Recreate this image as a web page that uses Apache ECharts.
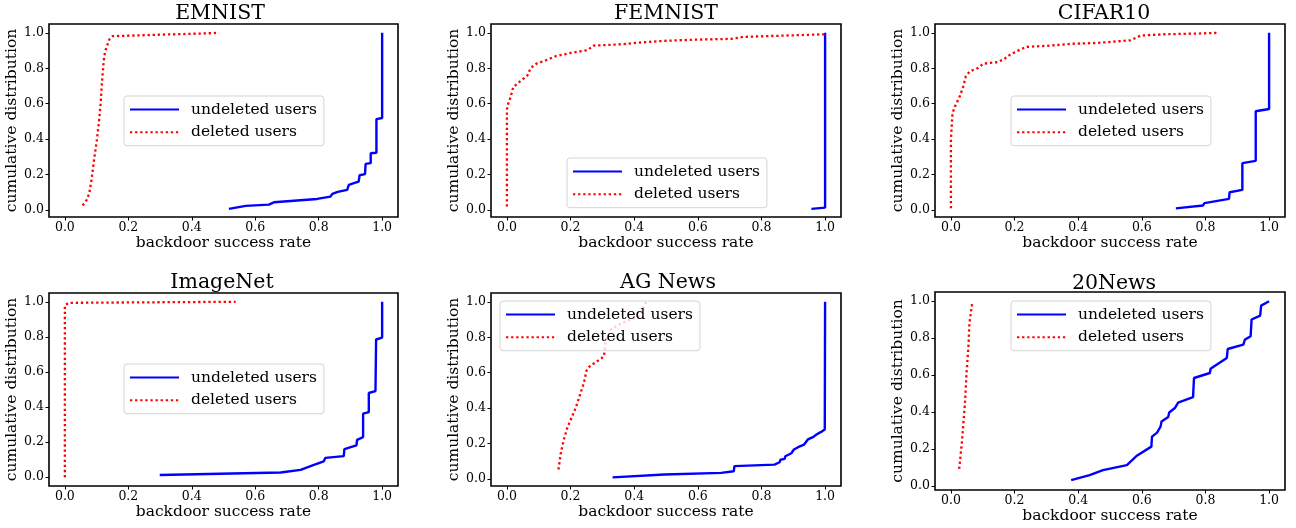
<!DOCTYPE html>
<html>
<head>
<meta charset="utf-8">
<script src="https://cdn.jsdelivr.net/npm/echarts@6/dist/echarts.min.js"></script>
<style>html,body{margin:0;padding:0;background:#fff}#c{width:1296px;height:528px}</style>
</head>
<body>
<div id="c"></div>
<script>
const titles = ['EMNIST', 'FEMNIST', 'CIFAR10', 'ImageNet', 'AG News', '20News'];
const seriesNames = ['undeleted users', 'deleted users'];
const xTicks = [0, 0.2, 0.4, 0.6, 0.8, 1.0];
const yTicks = [0, 0.2, 0.4, 0.6, 0.8, 1.0];
const xLabel = 'backdoor success rate';
const yLabel = 'cumulative distribution';

const undeletedEMNIST = [[0.517,0.006],[0.570,0.023],[0.643,0.030],[0.659,0.043],[0.795,0.062],[0.837,0.075],[0.843,0.091],[0.860,0.102],[0.890,0.113],[0.895,0.141],[0.911,0.151],[0.926,0.160],[0.929,0.196],[0.946,0.202],[0.948,0.260],[0.964,0.264],[0.964,0.320],[0.982,0.323],[0.982,0.513],[1.0,0.519],[1.0,1.0]];
const deletedEMNIST = [[0.056,0.025],[0.069,0.057],[0.077,0.094],[0.084,0.170],[0.092,0.283],[0.101,0.396],[0.108,0.509],[0.113,0.604],[0.116,0.698],[0.121,0.811],[0.124,0.868],[0.129,0.906],[0.140,0.962],[0.150,0.981],[0.218,0.985],[0.323,0.991],[0.428,0.996],[0.486,1.0]];

const undeletedFEMNIST = [[0.957,0.006],[1.0,0.013],[1.0,1.0]];
const deletedFEMNIST = [[0,0.019],[0,0.566],[0.003,0.594],[0.012,0.640],[0.020,0.694],[0.035,0.717],[0.051,0.740],[0.064,0.758],[0.075,0.802],[0.093,0.826],[0.122,0.845],[0.153,0.868],[0.201,0.887],[0.253,0.902],[0.272,0.928],[0.348,0.934],[0.432,0.947],[0.495,0.955],[0.600,0.962],[0.705,0.966],[0.742,0.977],[0.810,0.981],[0.915,0.987],[1.0,0.992]];

const undeletedCIFAR10 = [[0.707,0.009],[0.792,0.025],[0.797,0.038],[0.874,0.062],[0.876,0.100],[0.916,0.113],[0.916,0.264],[0.958,0.277],[0.958,0.557],[1.0,0.570],[1.0,1.0]];
const deletedCIFAR10 = [[0,0.009],[0,0.396],[0.005,0.547],[0.013,0.585],[0.028,0.642],[0.039,0.698],[0.047,0.755],[0.060,0.783],[0.086,0.802],[0.102,0.826],[0.144,0.834],[0.165,0.849],[0.186,0.877],[0.218,0.906],[0.239,0.921],[0.313,0.928],[0.376,0.938],[0.460,0.943],[0.565,0.958],[0.597,0.985],[0.671,0.992],[0.776,0.996],[0.839,1.0]];

const undeletedImageNet = [[0.299,0.013],[0.680,0.027],[0.743,0.042],[0.785,0.070],[0.816,0.091],[0.821,0.110],[0.879,0.120],[0.881,0.160],[0.919,0.181],[0.921,0.213],[0.940,0.229],[0.940,0.362],[0.958,0.371],[0.958,0.480],[0.979,0.491],[0.981,0.785],[1.0,0.796],[1.0,1.0]];
const deletedImageNet = [[0,0],[0,0.981],[0.013,0.994],[0.538,1.0]];

const undeletedAGNews = [[0.332,0.009],[0.495,0.025],[0.673,0.034],[0.713,0.043],[0.715,0.072],[0.841,0.081],[0.857,0.094],[0.860,0.108],[0.873,0.113],[0.875,0.128],[0.894,0.145],[0.902,0.166],[0.915,0.179],[0.934,0.194],[0.946,0.223],[0.962,0.236],[0.973,0.251],[0.986,0.264],[0.999,0.279],[1.0,1.0]];
const deletedAGNews = [[0.162,0.053],[0.169,0.142],[0.178,0.217],[0.190,0.290],[0.206,0.358],[0.216,0.400],[0.228,0.466],[0.242,0.542],[0.250,0.610],[0.262,0.640],[0.279,0.658],[0.305,0.692],[0.310,0.768],[0.326,0.843],[0.362,0.881],[0.415,0.919],[0.438,1.0]];

const undeleted20News = [[0.378,0.031],[0.436,0.058],[0.478,0.085],[0.553,0.112],[0.583,0.161],[0.630,0.212],[0.632,0.266],[0.648,0.288],[0.659,0.321],[0.662,0.348],[0.683,0.372],[0.686,0.397],[0.704,0.421],[0.714,0.451],[0.761,0.480],[0.764,0.584],[0.814,0.611],[0.816,0.634],[0.867,0.692],[0.870,0.741],[0.919,0.765],[0.924,0.792],[0.942,0.810],[0.945,0.901],[0.972,0.922],[0.975,0.976],[1.0,1.0]];
const deleted20News = [[0.026,0.091],[0.034,0.226],[0.039,0.335],[0.044,0.444],[0.049,0.607],[0.055,0.752],[0.058,0.879],[0.067,0.991]];

const undeletedAll = [undeletedEMNIST, undeletedFEMNIST, undeletedCIFAR10, undeletedImageNet, undeletedAGNews, undeleted20News];
const deletedAll = [deletedEMNIST, deletedFEMNIST, deletedCIFAR10, deletedImageNet, deletedAGNews, deleted20News];

// layout (pixels)
const grids = [
  {left: 49, top: 24, width: 349, height: 193},
  {left: 491, top: 24, width: 350, height: 193},
  {left: 935, top: 24, width: 350, height: 193},
  {left: 49, top: 293, width: 349, height: 193},
  {left: 491, top: 293, width: 350, height: 193},
  {left: 935, top: 292, width: 350, height: 198}
];
const yRanges = [[-0.04,1.05],[-0.04,1.05],[-0.04,1.05],[-0.05,1.05],[-0.04,1.05],[-0.023,1.05]];
const xRange = [-0.05, 1.05];
const titleCenters = [215, 661, 1099, 217, 663, 1109];
const titleTops = [-2, -2, -2, 267, 267, 268];
const legendPos = [
  {left: 124, top: 96},
  {left: 567, top: 158},
  {left: 1011, top: 96},
  {left: 124, top: 364},
  {left: 500, top: 301},
  {left: 1011, top: 301}
];

const FONT = 'DejaVu Serif';
const fmt = v => Number(v).toFixed(1);

const option = {
  backgroundColor: '#fff',
  animation: false,
  title: [], grid: [], xAxis: [], yAxis: [], series: [], legend: []
};

for (let i = 0; i < 6; i++) {
  const g = grids[i];
  option.grid.push(Object.assign({show: true, borderColor: '#000', borderWidth: 1.6, backgroundColor: 'transparent', containLabel: false}, g));
  option.title.push({
    text: titles[i], left: titleCenters[i], top: titleTops[i], textAlign: 'center',
    textStyle: {fontFamily: FONT, fontSize: 20.5, fontWeight: 'normal', color: '#000'}
  });
  option.xAxis.push({
    type: 'value', gridIndex: i, min: xRange[0], max: xRange[1], position: 'bottom',
    name: xLabel, nameLocation: 'middle', nameGap: 18,
    nameTextStyle: {fontFamily: FONT, fontSize: 15.5, color: '#000'},
    axisLine: {show: false, onZero: false},
    axisTick: {show: true, length: 3.5, lineStyle: {color: '#000', width: 1}, customValues: xTicks},
    axisLabel: {show: true, margin: 4, fontFamily: FONT, fontSize: 12.5, color: '#000', formatter: fmt, customValues: xTicks},
    splitLine: {show: false}
  });
  option.yAxis.push({
    type: 'value', gridIndex: i, min: yRanges[i][0], max: yRanges[i][1], position: 'left',
    name: yLabel, nameLocation: 'middle', nameGap: 27, nameRotate: 90,
    nameTextStyle: {fontFamily: FONT, fontSize: 15.5, color: '#000'},
    axisLine: {show: false, onZero: false},
    axisTick: {show: true, length: 3.5, lineStyle: {color: '#000', width: 1}, customValues: yTicks},
    axisLabel: {show: true, margin: 5, fontFamily: FONT, fontSize: 12.5, color: '#000', formatter: fmt, customValues: yTicks},
    splitLine: {show: false}
  });
  option.series.push({
    name: seriesNames[0], type: 'line', xAxisIndex: i, yAxisIndex: i,
    data: undeletedAll[i], symbol: 'none', showSymbol: false,
    lineStyle: {color: '#0000ff', width: 2.4}, itemStyle: {color: '#0000ff'}, z: 3
  });
  option.series.push({
    name: seriesNames[1], type: 'line', xAxisIndex: i, yAxisIndex: i,
    data: deletedAll[i], symbol: 'none', showSymbol: false,
    lineStyle: {color: '#ff0000', width: 2.3, type: [2.3, 2.8], cap: 'butt'}, itemStyle: {color: '#ff0000'}, z: 3
  });
  option.legend.push({
    data: seriesNames, orient: 'vertical', left: legendPos[i].left, top: legendPos[i].top,
    itemWidth: 49, itemHeight: 16, itemGap: 6.7, padding: [5.5, 7, 5.5, 5],
    backgroundColor: 'rgba(255,255,255,0.8)', borderColor: '#d5d5d5', borderWidth: 1, borderRadius: 3,
    selectedMode: false,
    itemStyle: {opacity: 0, borderWidth: 0},
    textStyle: {fontFamily: FONT, fontSize: 15.5, color: '#000', padding: [0, 0, 0, 7]},
    z: 10
  });
}

const chart = echarts.init(document.getElementById('c'), null, {renderer: 'canvas', width: 1296, height: 528});
chart.setOption(option);
</script>
</body>
</html>
